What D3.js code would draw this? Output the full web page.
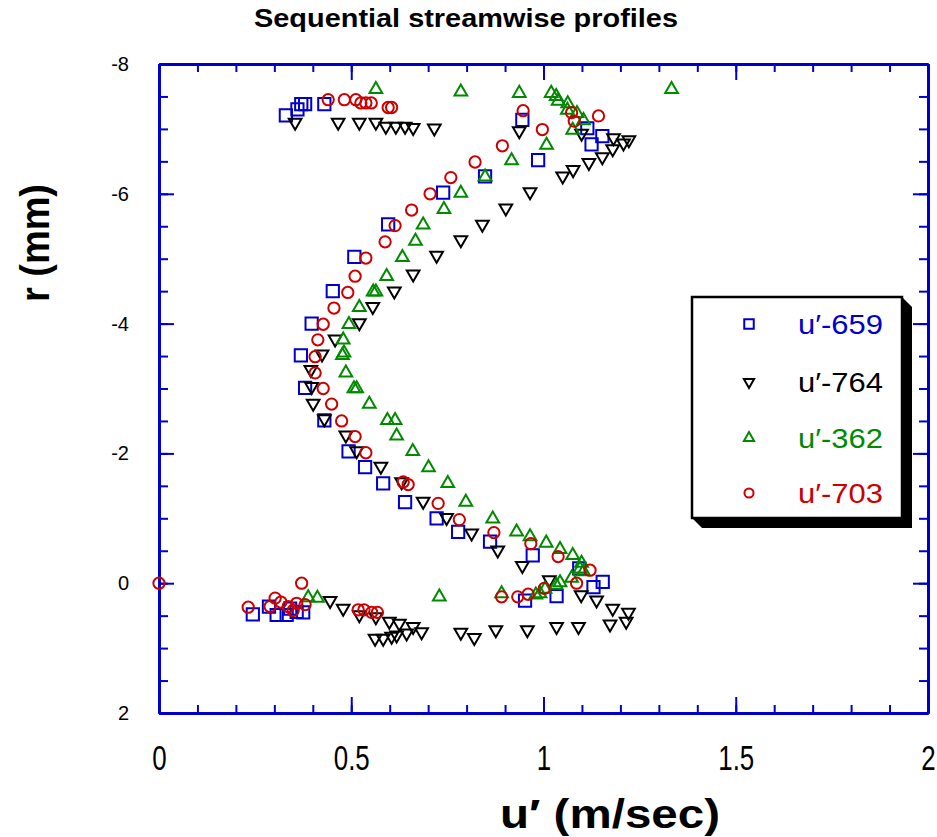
<!DOCTYPE html>
<html>
<head>
<meta charset="utf-8">
<script src="https://cdn.jsdelivr.net/npm/d3@7"></script>
<style>
  body { margin: 0; background: #fff; }
  text { font-family: "Liberation Sans", Arial, sans-serif; }
</style>
</head>
<body>
<svg id="chart" width="937" height="837"></svg>
<script>
// values: [u' (m/sec), r (mm)]
var s659 = [
  [0.33,-7.21],[0.36,-7.30],[0.37,-7.38],[0.38,-7.38],[0.43,-7.38],
  [0.945,-7.14],[1.114,-7.01],[1.153,-6.89],[1.125,-6.76],[0.986,-6.52],
  [0.848,-6.27],[0.739,-6.02],[0.596,-5.53],[0.508,-5.03],[0.452,-4.50],
  [0.397,-4.00],[0.369,-3.51],[0.380,-3.01],[0.430,-2.51],[0.493,-2.03],
  [0.536,-1.79],[0.583,-1.54],[0.640,-1.25],[0.722,-1.00],[0.778,-0.79],
  [0.861,-0.64],[0.972,-0.43],[1.093,-0.23],[1.154,-0.02],[1.130,0.06],
  [1.034,0.20],[0.952,0.27],
  [0.244,0.48],[0.286,0.36],[0.306,0.49],[0.332,0.49],[0.341,0.39],[0.358,0.44],[0.375,0.45]
];
var s764 = [
  [0.354,-7.10],[0.466,-7.10],[0.521,-7.10],[0.564,-7.10],[0.590,-7.04],
  [0.616,-7.04],[0.640,-7.04],[0.661,-7.02],[0.716,-7.01],
  [0.937,-6.97],[1.099,-6.93],[1.182,-6.86],[1.222,-6.83],[1.208,-6.78],
  [1.180,-6.69],[1.153,-6.57],[1.118,-6.48],[1.077,-6.37],[1.050,-6.27],
  [0.965,-6.03],[0.902,-5.78],[0.841,-5.53],[0.785,-5.29],[0.722,-5.05],
  [0.661,-4.76],[0.612,-4.50],[0.556,-4.26],[0.521,-4.01],[0.458,-3.76],
  [0.424,-3.53],[0.395,-3.29],[0.397,-3.03],[0.401,-2.77],[0.430,-2.53],
  [0.486,-2.28],[0.514,-2.04],[0.577,-1.80],[0.631,-1.56],[0.687,-1.26],
  [0.748,-1.01],[0.813,-0.77],[0.881,-0.51],[0.945,-0.27],[1.015,-0.05],
  [1.098,0.18],[1.138,0.26],[1.180,0.39],[1.221,0.45],[1.215,0.59],
  [1.173,0.63],[1.091,0.67],[1.034,0.67],[0.958,0.72],[0.876,0.72],
  [0.820,0.84],[0.785,0.76],[0.683,0.75],[0.661,0.67],[0.644,0.77],
  [0.618,0.80],[0.605,0.82],[0.583,0.85],[0.562,0.85],[0.625,0.62],
  [0.599,0.59],[0.564,0.52],[0.521,0.49],[0.479,0.39],[0.445,0.27]
];
var s362 = [
  [0.564,-7.61],[0.785,-7.57],[0.937,-7.55],[1.020,-7.55],[1.033,-7.50],
  [1.038,-7.43],[1.063,-7.39],[1.062,-7.29],[1.087,-7.24],[1.104,-7.13],
  [1.076,-6.98],[1.333,-7.61],
  [1.008,-6.75],[0.917,-6.51],[0.848,-6.26],[0.785,-6.01],[0.741,-5.76],
  [0.687,-5.52],[0.667,-5.27],[0.633,-5.02],[0.592,-4.73],[0.557,-4.49],
  [0.564,-4.49],[0.521,-4.25],[0.494,-3.99],[0.479,-3.75],[0.477,-3.51],
  [0.481,-3.55],[0.486,-3.24],[0.507,-3.00],[0.514,-3.00],[0.547,-2.76],
  [0.594,-2.51],[0.614,-2.51],[0.618,-2.27],[0.660,-2.03],[0.701,-1.78],
  [0.751,-1.54],[0.798,-1.25],[0.868,-0.99],[0.930,-0.79],[0.965,-0.72],
  [1.007,-0.62],[1.043,-0.52],[1.076,-0.43],[1.099,-0.31],[1.104,-0.18],
  [1.095,-0.22],[1.073,-0.08],[1.043,-0.01],[1.033,0.03],[1.004,0.09],
  [0.991,0.16],[0.980,0.18],[0.891,0.16],[0.729,0.21],[0.388,0.22],[0.412,0.23]
];
var s703 = [
  [0.440,-7.45],[0.482,-7.45],[0.512,-7.45],[0.525,-7.40],[0.538,-7.40],
  [0.552,-7.40],[0.596,-7.33],[0.605,-7.33],[0.947,-7.28],[1.073,-7.25],
  [1.080,-7.12],[1.143,-7.20],[0.997,-6.99],[0.893,-6.74],[0.822,-6.49],
  [0.759,-6.25],[0.705,-6.00],[0.657,-5.75],[0.614,-5.51],[0.588,-5.26],
  [0.538,-5.01],[0.510,-4.73],[0.491,-4.48],[0.455,-4.24],[0.427,-3.99],
  [0.413,-3.75],[0.406,-3.49],[0.406,-3.24],[0.427,-3.00],[0.449,-2.76],
  [0.475,-2.50],[0.510,-2.26],[0.538,-2.01],[0.635,-1.56],[0.648,-1.52],
  [0.726,-1.23],[0.781,-0.98],[0.871,-0.78],[0.967,-0.61],[1.038,-0.41],
  [1.121,-0.20],[1.086,0.00],[1.002,0.08],[0.960,0.17],[0.933,0.21],
  [0.891,0.21],[0.000,0.00],[0.371,0.00],[0.232,0.37],[0.289,0.36],
  [0.302,0.23],[0.317,0.29],[0.336,0.36],[0.349,0.42],[0.358,0.31],
  [0.380,0.33],[0.518,0.41],[0.533,0.41],[0.553,0.45],[0.568,0.45]
];
var seriesNames = ["u\u2032-659", "u\u2032-764", "u\u2032-362", "u\u2032-703"];
var seriesColors = ["#0000cc", "#000000", "#008a00", "#cc0000"];
var xTickLabels = ["0", "0.5", "1", "1.5", "2"];
var yTickLabels = ["-8", "-6", "-4", "-2", "0", "2"];

var mLeft = 159, mRight = 928, mTop = 64, mBottom = 713;
var svg = d3.select("#chart");
var axisBlue = "#0000cc";

var x = d3.scaleLinear().domain([0, 2]).range([mLeft, mRight]);
var y = d3.scaleLinear().domain([-8, 2]).range([mTop, mBottom]);

var xMinor = d3.range(0, 2.0001, 0.1);
var yMinor = d3.range(-8, 2.0001, 0.5);
var xMajor = xTickLabels.map(Number);
var yMajor = yTickLabels.map(Number);

function styleAxis(g) {
  g.selectAll("path").attr("stroke", axisBlue).attr("stroke-width", 3);
  g.selectAll("line").attr("stroke", axisBlue).attr("stroke-width", 2);
}

// minor ticks, all four sides, pointing inward
svg.append("g").attr("transform", "translate(0," + mBottom + ")")
  .call(d3.axisBottom(x).tickValues(xMinor).tickSize(-8).tickSizeOuter(0).tickFormat(""))
  .call(styleAxis);
svg.append("g").attr("transform", "translate(0," + mTop + ")")
  .call(d3.axisTop(x).tickValues(xMinor).tickSize(-8).tickSizeOuter(0).tickFormat(""))
  .call(styleAxis);
svg.append("g").attr("transform", "translate(" + mLeft + ",0)")
  .call(d3.axisLeft(y).tickValues(yMinor).tickSize(-9).tickSizeOuter(0).tickFormat(""))
  .call(styleAxis);
svg.append("g").attr("transform", "translate(" + mRight + ",0)")
  .call(d3.axisRight(y).tickValues(yMinor).tickSize(-9).tickSizeOuter(0).tickFormat(""))
  .call(styleAxis);

// major ticks with labels
var xAx = svg.append("g").attr("transform", "translate(0," + mBottom + ")")
  .call(d3.axisBottom(x).tickValues(xMajor).tickSize(-16).tickSizeOuter(0)
    .tickFormat(function(d, i) { return xTickLabels[i]; }))
  .call(styleAxis);
xAx.selectAll("text")
  .attr("y", 0).attr("dy", null)
  .attr("font-size", 36).attr("fill", "#000")
  .attr("transform", "translate(0,57) scale(0.72,1)");
svg.append("g").attr("transform", "translate(0," + mTop + ")")
  .call(d3.axisTop(x).tickValues(xMajor).tickSize(-16).tickSizeOuter(0).tickFormat(""))
  .call(styleAxis);
var yAx = svg.append("g").attr("transform", "translate(" + mLeft + ",0)")
  .call(d3.axisLeft(y).tickValues(yMajor).tickSize(-15).tickSizeOuter(0).tickPadding(30)
    .tickFormat(function(d, i) { return yTickLabels[i]; }))
  .call(styleAxis);
yAx.selectAll("text").attr("font-size", 20).attr("fill", "#000");
svg.append("g").attr("transform", "translate(" + mRight + ",0)")
  .call(d3.axisRight(y).tickValues(yMajor).tickSize(-15).tickSizeOuter(0).tickFormat(""))
  .call(styleAxis);

// markers
var shapes = [
  d3.symbol().type(d3.symbolSquare).size(150),
  d3.symbol().type(d3.symbolTriangle).size(70),
  d3.symbol().type(d3.symbolTriangle).size(70),
  d3.symbol().type(d3.symbolCircle).size(100)
];
var rotations = [0, 180, 0, 0];
var allSeries = [s659, s764, s362, s703];

allSeries.forEach(function(data, k) {
  svg.append("g").selectAll("path")
    .data(data)
    .enter()
    .append("path")
    .attr("d", shapes[k])
    .attr("transform", function(d) {
      return "translate(" + x(d[0]) + "," + y(d[1]) + ") rotate(" + rotations[k] + ")";
    })
    .attr("fill", "none")
    .attr("stroke", seriesColors[k])
    .attr("stroke-width", 2);
});

// legend with drop shadow
var lx = 692, ly = 297, lw = 210, lh = 221, sh = 10;
svg.append("path")
  .attr("d", "M" + (lx + lw) + "," + ly + " l" + sh + "," + sh + " V" + (ly + lh + sh) +
    " H" + (lx + sh) + " l" + (-sh) + "," + (-sh) + " Z")
  .attr("fill", "#000");
svg.append("rect")
  .attr("x", lx).attr("y", ly).attr("width", lw).attr("height", lh)
  .attr("fill", "#fff").attr("stroke", "#000").attr("stroke-width", 2.5);

var legendShapes = [
  d3.symbol().type(d3.symbolSquare).size(90),
  d3.symbol().type(d3.symbolTriangle).size(45),
  d3.symbol().type(d3.symbolTriangle).size(45),
  d3.symbol().type(d3.symbolCircle).size(65)
];
var legendRows = [324, 382, 438, 493];
seriesNames.forEach(function(name, k) {
  svg.append("path")
    .attr("d", legendShapes[k])
    .attr("transform", "translate(749," + legendRows[k] + ") rotate(" + rotations[k] + ")")
    .attr("fill", "none").attr("stroke", seriesColors[k]).attr("stroke-width", 2);
  svg.append("text")
    .attr("x", 798).attr("y", legendRows[k] + 10)
    .attr("font-size", 28)
    .attr("textLength", 85).attr("lengthAdjust", "spacingAndGlyphs")
    .attr("fill", seriesColors[k])
    .text(name);
});

// titles
svg.append("text")
  .attr("x", 254).attr("y", 27)
  .attr("font-size", 26).attr("font-weight", "bold")
  .attr("textLength", 424).attr("lengthAdjust", "spacingAndGlyphs")
  .text("Sequential streamwise profiles");

svg.append("text")
  .attr("transform", "translate(49,302) rotate(-90)")
  .attr("font-size", 40).attr("font-weight", "bold")
  .attr("textLength", 118).attr("lengthAdjust", "spacingAndGlyphs")
  .text("r  (mm)");

svg.append("text")
  .attr("x", 500).attr("y", 828)
  .attr("font-size", 40).attr("font-weight", "bold")
  .attr("textLength", 220).attr("lengthAdjust", "spacingAndGlyphs")
  .text("u\u2032  (m/sec)");
</script>
</body>
</html>
